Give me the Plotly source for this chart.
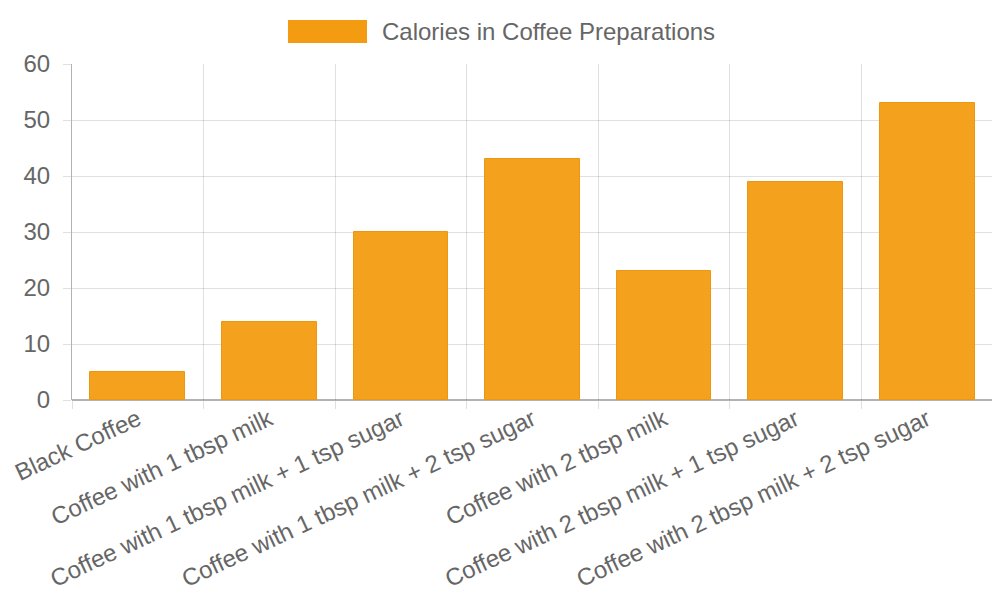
import plotly.graph_objs as go

categories = [
    "Black Coffee",
    "Coffee with 1 tbsp milk",
    "Coffee with 1 tbsp milk + 1 tsp sugar",
    "Coffee with 1 tbsp milk + 2 tsp sugar",
    "Coffee with 2 tbsp milk",
    "Coffee with 2 tbsp milk + 1 tsp sugar",
    "Coffee with 2 tbsp milk + 2 tsp sugar",
]
calories = [5, 14, 30, 43, 23, 39, 53]
series_name = "Calories in Coffee Preparations"

positions = list(range(len(categories)))
font = "Liberation Sans, Arial, sans-serif"
grid = "rgba(0,0,0,0.12)"
axis_col = "rgba(0,0,0,0.3)"

trace = go.Bar(
    x=positions, y=calories, name=series_name, width=0.72,
    marker=dict(color="rgba(243,156,18,0.95)", line=dict(color="rgb(238,150,16)", width=1)),
    showlegend=False,
)

fig = go.Figure(data=[trace])
# page body adds 8px, so the figure is a bit smaller than the window
fig.update_layout(
    width=992, height=592,
    margin=dict(l=64, r=7, t=56, b=200),
    plot_bgcolor="white", paper_bgcolor="white",
    font=dict(family=font, size=24, color="#666666"),
    bargap=0,
    xaxis=dict(
        range=[-0.5, len(categories) - 0.5], automargin=False,
        tickmode="array", tickvals=positions, ticktext=categories,
        tickangle=-25, ticks="", showgrid=False,
        showline=False, zeroline=False,
        minor=dict(tickmode="linear", tick0=-0.5, dtick=1, showgrid=True,
                   gridcolor=grid, ticks="outside", ticklen=8, tickcolor=grid),
    ),
    yaxis=dict(
        range=[0, 60], dtick=10, showgrid=True, gridcolor=grid, automargin=False,
        ticks="outside", ticklen=8, tickcolor=grid, ticklabelstandoff=8,
        showline=True, linecolor=axis_col, zeroline=True, zerolinecolor=axis_col,
        zerolinewidth=1.5,
    ),
    shapes=[dict(type="rect", xref="paper", yref="paper",
                 x0=0.2345, x1=0.3203, y0=1.0625, y1=1.131,
                 fillcolor="#F39C12", line=dict(width=0))],
    annotations=[dict(text=series_name, xref="paper", yref="paper",
                      x=0.3344, y=1.097, xanchor="left", yanchor="middle",
                      showarrow=False, font=dict(size=24, color="#666666"))],
)

fig.write_html("out.html")
